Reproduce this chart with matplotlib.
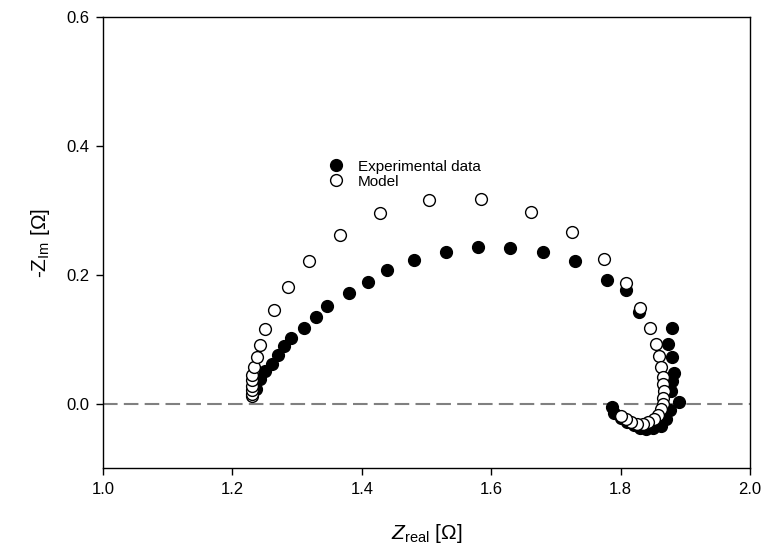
import matplotlib
matplotlib.use("Agg")
import matplotlib.pyplot as plt

plt.rcParams['font.family'] = ['Liberation Sans', 'DejaVu Sans']
plt.rcParams['mathtext.fontset'] = 'custom'
plt.rcParams['mathtext.rm'] = 'Liberation Sans'
plt.rcParams['mathtext.it'] = 'Liberation Sans:italic'

# experimental impedance data
exp_re = [1.236, 1.243, 1.251, 1.261, 1.271, 1.280, 1.290, 1.310, 1.330, 1.347,
          1.380, 1.410, 1.439, 1.480, 1.530, 1.580, 1.629, 1.680, 1.729, 1.779,
          1.809, 1.829, 1.879, 1.873, 1.879, 1.882, 1.879, 1.878, 1.890, 1.876,
          1.870, 1.862, 1.850, 1.840, 1.830, 1.820, 1.810, 1.800, 1.790, 1.787]
exp_im = [0.022, 0.038, 0.050, 0.062, 0.075, 0.089, 0.102, 0.118, 0.134, 0.152,
          0.171, 0.189, 0.207, 0.223, 0.236, 0.243, 0.242, 0.235, 0.221, 0.192,
          0.176, 0.142, 0.118, 0.093, 0.072, 0.048, 0.035, 0.020, 0.003, -0.010,
          -0.024, -0.035, -0.038, -0.040, -0.038, -0.034, -0.028, -0.022, -0.015, -0.005]

# model fit
mod_re = [1.231, 1.231, 1.231, 1.231, 1.231, 1.231, 1.234, 1.238, 1.243, 1.251,
          1.265, 1.286, 1.319, 1.366, 1.428, 1.504, 1.585, 1.662, 1.725, 1.774,
          1.808, 1.830, 1.845, 1.855, 1.860, 1.863, 1.865, 1.866, 1.867, 1.866,
          1.865, 1.862, 1.858, 1.851, 1.843, 1.834, 1.825, 1.816, 1.808, 1.800]
mod_im = [0.011, 0.015, 0.021, 0.028, 0.036, 0.045, 0.057, 0.072, 0.091, 0.116,
          0.146, 0.181, 0.222, 0.262, 0.296, 0.316, 0.317, 0.298, 0.266, 0.225,
          0.187, 0.148, 0.118, 0.093, 0.074, 0.056, 0.042, 0.030, 0.019, 0.009,
          0.000, -0.009, -0.017, -0.024, -0.029, -0.032, -0.031, -0.028, -0.024, -0.019]

fig = plt.figure(figsize=(7.65, 5.56), dpi=100)
ax = fig.add_axes([0.1346, 0.1583, 0.8458, 0.8111])

ax.axhline(0, color='#808080', lw=1.5, dashes=(7, 3), zorder=1)
ax.plot(exp_re, exp_im, 'o', color='black', ms=8.5, ls='none',
        label='Experimental data', zorder=2)
ax.plot(mod_re, mod_im, 'o', mfc='white', mec='black', mew=1.0, ms=8.5,
        ls='none', label='Model', zorder=3)

ax.set_xlim(1.0, 2.0)
ax.set_ylim(-0.1, 0.6)
ax.set_xticks([1.0, 1.2, 1.4, 1.6, 1.8, 2.0])
ax.set_yticks([0.0, 0.2, 0.4, 0.6])
ax.set_xticklabels(['1.0', '1.2', '1.4', '1.6', '1.8', '2.0'])
ax.set_yticklabels(['0.0', '0.2', '0.4', '0.6'])
ax.tick_params(direction='out', length=5, width=1, labelsize=12, pad=5)
for s in ax.spines.values():
    s.set_linewidth(1.0)

ax.set_xlabel(r'$\mathit{Z}_{\mathrm{real}}$ [Ω]', fontsize=15, labelpad=18)
ax.set_ylabel(r'-$\mathrm{Z}_{\mathrm{Im}}$ [Ω]', fontsize=15, labelpad=10)

ax.legend(loc='upper left', bbox_to_anchor=(0.327, 0.697), frameon=False,
          fontsize=11, handletextpad=0.45, borderaxespad=0, labelspacing=0.05)

fig.savefig('out.png', dpi=100)
